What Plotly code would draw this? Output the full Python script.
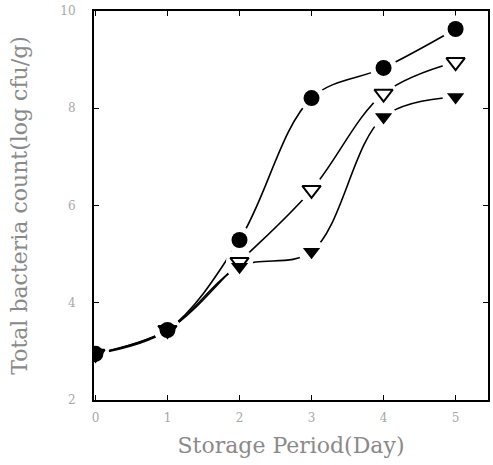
import plotly.graph_objects as go

days = [0, 1, 2, 3, 4, 5]
circle_vals = [2.95, 3.44, 5.29, 8.21, 8.83, 9.63]
open_tri_vals = [2.95, 3.44, 4.84, 6.32, 8.30, 8.95]
filled_tri_vals = [2.95, 3.44, 4.74, 5.05, 7.82, 8.23]
x_ticks = [0, 1, 2, 3, 4, 5]
y_ticks = [2, 4, 6, 8, 10]

series = [
    ("circle", circle_vals, "circle", 16),
    ("open", open_tri_vals, "triangle-down-open", 16),
    ("filled", filled_tri_vals, "triangle-down", 15),
]

fig = go.Figure()
# lines on subplot 1
for name, vals, sym, sz in series:
    fig.add_trace(go.Scatter(x=days, y=vals, mode="lines", xaxis="x", yaxis="y",
                             line=dict(color="black", width=1.6, shape="spline", smoothing=1.0),
                             showlegend=False, hoverinfo="skip"))
# white halos on subplot 2 (same domain, drawn after) -> gaps around markers
for name, vals, sym, sz in series:
    fig.add_trace(go.Scatter(x=days, y=vals, mode="markers", xaxis="x2", yaxis="y2",
                             marker=dict(symbol="circle", size=sz + 11, color="white"),
                             showlegend=False, hoverinfo="skip"))
# markers
for name, vals, sym, sz in series:
    if sym == "triangle-down-open":
        mk = dict(symbol="triangle-down", size=sz, color="white", line=dict(color="black", width=2))
    else:
        mk = dict(symbol=sym, size=sz, color="black", line=dict(width=0))
    fig.add_trace(go.Scatter(x=days, y=vals, mode="markers", xaxis="x2", yaxis="y2",
                             marker=mk, showlegend=False))

tickfont = dict(family="DejaVu Serif", size=12, color="#a8a8a8")
titlefont = dict(family="DejaVu Serif", size=22, color="#8a8a8a")
xr = [-0.02, 5.45]
yr = [2, 10]

fig.update_layout(
    width=493, height=465, margin=dict(l=94, r=5, t=11, b=65),
    plot_bgcolor="rgba(0,0,0,0)", paper_bgcolor="white",
    xaxis=dict(range=xr, tickvals=x_ticks, ticks="inside", ticklen=5, tickwidth=1,
               tickcolor="black", showline=True, linecolor="black", linewidth=2,
               mirror="ticks", showgrid=False, zeroline=False, tickfont=tickfont,
               automargin=False, ticklabelstandoff=6, domain=[0, 1],
               title=dict(text="Storage Period(Day)", font=titlefont, standoff=13)),
    yaxis=dict(range=yr, tickvals=y_ticks, ticks="inside", ticklen=5, tickwidth=1,
               tickcolor="black", showline=True, linecolor="black", linewidth=2,
               mirror="ticks", showgrid=False, zeroline=False, tickfont=tickfont,
               automargin=False, ticklabelstandoff=14, domain=[0, 1],
               title=dict(text="Total bacteria count(log cfu/g)", font=titlefont, standoff=27)),
    xaxis2=dict(range=xr, anchor="y2", domain=[0, 1], visible=False,
                showgrid=False, zeroline=False),
    yaxis2=dict(range=yr, anchor="x2", domain=[0, 1], visible=False,
                showgrid=False, zeroline=False),
)
fig.write_html("out.html", config={"displayModeBar": False},
               post_script="document.body.style.margin='0';")
